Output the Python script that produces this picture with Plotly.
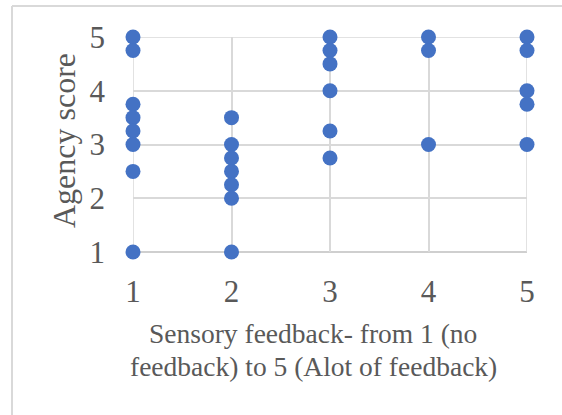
import plotly.graph_objects as go

# Agency scores grouped by sensory feedback level
feedback = [1, 1, 1, 1, 1, 1, 1, 1,
            2, 2, 2, 2, 2, 2, 2,
            3, 3, 3, 3, 3, 3,
            4, 4, 4,
            5, 5, 5, 5, 5]
agency = [5, 4.75, 3.75, 3.5, 3.25, 3, 2.5, 1,
          3.5, 3, 2.75, 2.5, 2.25, 2, 1,
          5, 4.75, 4.5, 4, 3.25, 2.75,
          5, 4.75, 3,
          5, 4.75, 4, 3.75, 3]
x_ticks = [1, 2, 3, 4, 5]
y_ticks = [1, 2, 3, 4, 5]
x_title = ["Sensory feedback- from 1 (no", "feedback) to 5 (Alot of feedback)"]
y_title = "Agency score"

W, H = 562, 415
ml, mr, mt, mb = 133, 35, 37, 163
pw, ph = W - ml - mr, H - mt - mb

font_family = "'Times New Roman', 'Liberation Serif', serif"
text_col = "#595959"
grid_col = "#d9d9d9"


def px_x(p):
    return (p - ml) / pw


def px_y(p):
    return (H - mb - p) / ph


fig = go.Figure(go.Scatter(
    x=feedback, y=agency, mode="markers",
    marker=dict(color="#4472C4", size=15, line=dict(width=0)),
    cliponaxis=False,
))

fig.update_layout(
    width=W, height=H,
    margin=dict(l=ml, r=mr, t=mt, b=mb),
    paper_bgcolor="white", plot_bgcolor="white",
    showlegend=False,
    font=dict(family=font_family, color=text_col),
    xaxis=dict(
        range=[1, 5], tickvals=x_ticks, ticks="", showgrid=True, gridcolor=grid_col,
        gridwidth=1.5, zeroline=False, showline=False,
        tickfont=dict(family=font_family, size=31, color=text_col), ticklabelstandoff=18,
    ),
    yaxis=dict(
        range=[1, 5], tickvals=y_ticks, ticks="", showgrid=True, gridcolor=grid_col,
        gridwidth=1.5, zeroline=False, showline=False,
        tickfont=dict(family=font_family, size=31, color=text_col), ticklabelstandoff=27,
    ),
)

# Gridlines along the plot edges
for xv in (x_ticks[0], x_ticks[-1]):
    fig.add_shape(type="line", xref="x", yref="y", x0=xv, x1=xv, y0=y_ticks[0], y1=y_ticks[-1],
                  line=dict(color=grid_col, width=1.5), layer="below")
fig.add_shape(type="line", xref="x", yref="y", x0=x_ticks[0], x1=x_ticks[-1],
              y0=y_ticks[-1], y1=y_ticks[-1], line=dict(color=grid_col, width=1.5), layer="below")

# Bottom axis line
fig.add_shape(type="line", xref="paper", yref="paper", x0=0, x1=1, y0=0, y1=0,
              line=dict(color="#bfbfbf", width=1.5), layer="below")

# Y axis title
fig.add_annotation(
    xref="paper", yref="paper", x=px_x(64), y=px_y(141), text=y_title, textangle=-90,
    showarrow=False, font=dict(size=32, color=text_col, family=font_family),
    xanchor="center", yanchor="middle",
)

# X axis title, one annotation per line
for line, yc in zip(x_title, (333, 366)):
    fig.add_annotation(
        xref="paper", yref="paper", x=px_x(313), y=px_y(yc), text=line,
        showarrow=False, font=dict(size=27.5, color=text_col, family=font_family),
        xanchor="center", yanchor="middle",
    )

# Chart frame (left and top edges)
fx = px_x(12)
fy = px_y(6)
fy0 = px_y(H + 20)
fig.add_shape(type="line", xref="paper", yref="paper", x0=fx, x1=fx, y0=fy0, y1=fy,
              line=dict(color=grid_col, width=2))
fig.add_shape(type="line", xref="paper", yref="paper", x0=fx, x1=px_x(W + 20), y0=fy, y1=fy,
              line=dict(color=grid_col, width=2))

fig.write_html("out.html")
